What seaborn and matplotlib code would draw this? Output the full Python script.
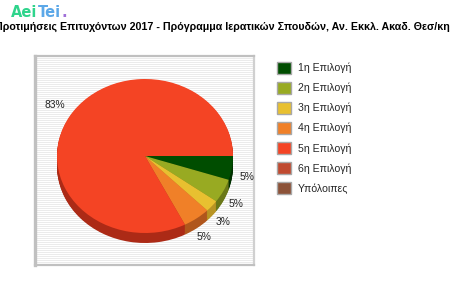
import numpy as np
import matplotlib
matplotlib.use("Agg")
import matplotlib.pyplot as plt
from matplotlib.patches import Patch
import seaborn as sns

# ---- data ----
categories = ["1η Επιλογή", "2η Επιλογή", "3η Επιλογή", "4η Επιλογή",
              "5η Επιλογή", "6η Επιλογή", "Υπόλοιπες"]
counts = [2, 2, 1, 2, 33, 0, 0]
title = "Προτιμήσεις Επιτυχόντων 2017 - Πρόγραμμα Ιερατικών Σπουδών, Αν. Εκκλ. Ακαδ. Θεσ/κης"

top_colors = ["#004d00", "#98aa22", "#e8c030", "#f08028", "#f44424", "#c04a30", "#8c5238"]
side_colors = ["#003000", "#6a7818", "#b89424", "#b0561c", "#ac2a16", "#8c3220", "#603826"]

sns.set_style("white")
plt.rcParams["font.family"] = ["Liberation Sans", "DejaVu Sans"]

W, H = 450, 300
fig = plt.figure(figsize=(W / 100, H / 100), dpi=100)
fig.patch.set_facecolor("white")


def px_axes(x0, y0, x1, y1):
    return fig.add_axes([x0 / W, 1 - y1 / H, (x1 - x0) / W, (y1 - y0) / H])


# ---- striped plot-area background ----
bg = px_axes(35, 56, 254, 265)
nrows = 209
stripes = np.ones((nrows, 1, 3))
for r in range(nrows):
    if r % 2 == 0:
        stripes[r, 0, :] = 0.925
bg.imshow(stripes, aspect="auto", interpolation="nearest", extent=(0, 1, 0, 1))
bg.set_xticks([])
bg.set_yticks([])
for side, sp in bg.spines.items():
    sp.set_color("#c0c0c0")
bg.spines["left"].set_linewidth(2.4)
bg.spines["top"].set_linewidth(1.6)
bg.spines["bottom"].set_linewidth(1.6)
bg.spines["right"].set_linewidth(1.6)
bg.spines["right"].set_color("#d0d0d0")

# ---- pie (3D-looking ellipse) ----
rx, ry = 88, 77
cx, cy = 145, 156
depth = 10
pax = px_axes(cx - rx, cy - ry, cx + rx, cy + ry + depth + 2)
pax.patch.set_alpha(0)
d = depth / ry

for k in np.linspace(d, 0.01, 12):
    pax.pie(counts, colors=side_colors, startangle=0, counterclock=False,
            center=(0, -k), radius=1, wedgeprops=dict(linewidth=0))


def fmt(p):
    return "" if p <= 0 else f"{int(p + 0.5)}%"


wedges, texts, autotexts = pax.pie(
    counts, colors=top_colors, startangle=0, counterclock=False,
    radius=1, autopct=fmt, pctdistance=1.2,
    wedgeprops=dict(linewidth=0),
    textprops=dict(fontsize=7.4, color="#222222"))
for t in autotexts:
    x, y = t.get_position()
    if y < -0.05 and x > 0:
        t.set_position((x - 0.03, y - 0.08))
    elif x < 0:
        t.set_position((x, y + 0.03))

pax.set_aspect("auto")
pax.set_xlim(-1, 1)
pax.set_ylim(-1 - (depth + 2) / ry, 1)
pax.axis("off")

# ---- legend ----
handles = [Patch(facecolor=c, edgecolor="#a8a8a8", linewidth=1.0) for c in top_colors]
fig.legend(handles, categories, loc="upper left",
           bbox_to_anchor=(277 / W, 1 - 62 / H), frameon=False,
           fontsize=7.6, handlelength=1.3, handleheight=1.3,
           labelspacing=0.81, handletextpad=0.7, borderpad=0, borderaxespad=0)

# ---- title ----
fig.text(0.5, 1 - 27 / H, title, ha="center", va="center",
         fontsize=7.7, fontweight="bold", color="black")

# ---- logo ----
t1 = fig.text(11 / W, 1 - 17 / H, "Aei", fontsize=10.5, fontweight="bold",
              color="#2fd48c", va="baseline", ha="left",
              family=["DejaVu Sans"])
t2 = fig.text(0, 0, "Tei", fontsize=10.5, fontweight="bold", color="#5ca8e8",
              va="baseline", ha="left", family=["DejaVu Sans"])
t3 = fig.text(0, 0, ".", fontsize=10.5, fontweight="bold", color="#a070d8",
              va="baseline", ha="left", family=["DejaVu Sans"])
fig.canvas.draw()
r = fig.canvas.get_renderer()
bb1 = t1.get_window_extent(r)
t2.set_position(((bb1.x1 + 0.3) / W, 1 - 17 / H))
bb2 = t2.get_window_extent(r)
t3.set_position(((bb2.x1 + 0.3) / W, 1 - 17 / H))

fig.savefig("out.png", dpi=100)
